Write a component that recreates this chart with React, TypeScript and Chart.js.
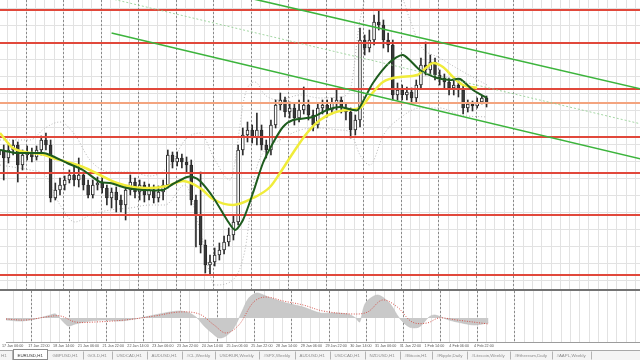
import React, { useEffect, useRef } from "react";
import { Chart, registerables } from "chart.js";

Chart.register(...registerables);

// ---- axis extents (hour index since 17 Jan 06:00, weekends skipped) ----
const X_MIN = 1.6;
const X_MAX = 411.2;
const PRICE_MIN = 1.1241;
const PRICE_MAX = 1.153;
const MACD_MIN = -0.0024;
const MACD_MAX = 0.0027;

// ---- time axis ----
const timeLabels = [
  "17 Jan 06:00", "17 Jan 22:00", "18 Jan 14:00", "21 Jan 06:00", "21 Jan 22:00",
  "22 Jan 14:00", "23 Jan 06:00", "23 Jan 22:00", "24 Jan 14:00", "25 Jan 06:00",
  "25 Jan 22:00", "28 Jan 14:00", "29 Jan 06:00", "29 Jan 22:00", "30 Jan 14:00",
  "31 Jan 06:00", "31 Jan 22:00", "1 Feb 14:00", "4 Feb 06:00", "4 Feb 22:00",
];
const timeLabelHours = [-1, 16, 32, 48, 64, 80, 96, 112, 128, 144, 160, 176, 192, 208, 224, 240, 256, 272, 288, 304];
const dayStartHours = [18, 42, 66, 90, 114, 138, 162, 186, 210, 234, 258, 282, 306, 330];

// ---- EURUSD H1 (3-hour candles) ----
const candleOpen = [
  1.1375, 1.138, 1.1372, 1.138, 1.1385, 1.1365, 1.1375, 1.1378, 1.1373, 1.138,
  1.139, 1.1385, 1.1332, 1.134, 1.1345, 1.135, 1.1355, 1.135, 1.1355, 1.1345,
  1.1335, 1.1345, 1.1347, 1.1342, 1.1332, 1.1338, 1.133, 1.1325, 1.134, 1.1348,
  1.1338, 1.1345, 1.1335, 1.134, 1.1332, 1.1338, 1.1345, 1.1375, 1.1368, 1.1372,
  1.1368, 1.1365, 1.133, 1.1315, 1.1285, 1.1265, 1.1268, 1.1275, 1.128, 1.1288,
  1.1295, 1.1308, 1.138, 1.1395, 1.14, 1.1392, 1.14, 1.1385, 1.138, 1.1405,
  1.1425, 1.143, 1.1418, 1.1422, 1.1412, 1.142, 1.1425, 1.1415, 1.1405, 1.1422,
  1.1425, 1.142, 1.1427, 1.143, 1.1422, 1.1418, 1.14, 1.141, 1.149, 1.1482,
  1.149, 1.1508, 1.1505, 1.149, 1.1485, 1.1435, 1.144, 1.1435, 1.1438, 1.1432,
  1.1445, 1.1465, 1.146, 1.1468, 1.1455, 1.1452, 1.1448, 1.1442, 1.1445, 1.144,
  1.1422, 1.1426, 1.1424, 1.1428, 1.1432,
];
const candleHigh = [
  1.1385, 1.1385, 1.1387, 1.139, 1.1388, 1.138, 1.1384, 1.1382, 1.1384, 1.1394,
  1.1397, 1.139, 1.1347, 1.1352, 1.1354, 1.136, 1.1365, 1.1372, 1.1358, 1.135,
  1.135, 1.1353, 1.1352, 1.1345, 1.1342, 1.1343, 1.1335, 1.1344, 1.1355, 1.1352,
  1.135, 1.1348, 1.1346, 1.1345, 1.1344, 1.135, 1.138, 1.1378, 1.1378, 1.1376,
  1.1373, 1.137, 1.1335, 1.1358, 1.129, 1.1275, 1.1282, 1.1287, 1.1294, 1.1302,
  1.1315, 1.1385, 1.1402, 1.1408, 1.1405, 1.1417, 1.1405, 1.139, 1.141, 1.143,
  1.1437, 1.1433, 1.1428, 1.1426, 1.143, 1.1443, 1.143, 1.142, 1.1426, 1.143,
  1.143, 1.1432, 1.144, 1.1433, 1.1426, 1.1422, 1.1415, 1.1502, 1.1495, 1.15,
  1.1515, 1.152, 1.151, 1.1497, 1.149, 1.1447, 1.1445, 1.1443, 1.1442, 1.145,
  1.1472, 1.1488, 1.1475, 1.1472, 1.146, 1.1456, 1.1452, 1.145, 1.145, 1.1444,
  1.143, 1.1429, 1.1432, 1.1434, 1.1434,
];
const candleLow = [
  1.137, 1.135, 1.1367, 1.1375, 1.1348, 1.136, 1.137, 1.1368, 1.137, 1.1375,
  1.138, 1.1328, 1.133, 1.1335, 1.134, 1.1347, 1.1344, 1.1343, 1.134, 1.1332,
  1.1332, 1.134, 1.1337, 1.1325, 1.1322, 1.1318, 1.1318, 1.131, 1.1335, 1.1332,
  1.133, 1.1328, 1.133, 1.1327, 1.1328, 1.133, 1.1342, 1.1362, 1.1364, 1.1362,
  1.1358, 1.1325, 1.1283, 1.1277, 1.1257, 1.1256, 1.1264, 1.127, 1.1276, 1.1284,
  1.129, 1.1305, 1.1375, 1.1388, 1.1387, 1.1385, 1.138, 1.1372, 1.1375, 1.1402,
  1.142, 1.1413, 1.1412, 1.1405, 1.1408, 1.1416, 1.141, 1.1399, 1.1402, 1.1416,
  1.1413, 1.1416, 1.142, 1.1417, 1.141, 1.1392, 1.1395, 1.1403, 1.1475, 1.1478,
  1.1485, 1.15, 1.1482, 1.1478, 1.143, 1.143, 1.143, 1.143, 1.1426, 1.1428,
  1.1442, 1.1455, 1.1455, 1.145, 1.1445, 1.1442, 1.1435, 1.1435, 1.1433, 1.1416,
  1.1418, 1.1419, 1.1422, 1.1426, 1.1423,
];
const candleClose = [
  1.138, 1.1372, 1.138, 1.1385, 1.1365, 1.1375, 1.1378, 1.1373, 1.138, 1.139,
  1.1385, 1.1332, 1.134, 1.1345, 1.135, 1.1355, 1.135, 1.1355, 1.1345, 1.1335,
  1.1345, 1.1347, 1.1342, 1.1332, 1.1338, 1.133, 1.1325, 1.134, 1.1348, 1.1338,
  1.1345, 1.1335, 1.134, 1.1332, 1.1338, 1.1345, 1.1375, 1.1368, 1.1372, 1.1368,
  1.1365, 1.133, 1.1315, 1.1285, 1.1265, 1.1268, 1.1275, 1.128, 1.1288, 1.1295,
  1.1308, 1.138, 1.1395, 1.14, 1.1392, 1.14, 1.1385, 1.138, 1.1405, 1.1425,
  1.143, 1.1418, 1.1422, 1.1412, 1.142, 1.1425, 1.1415, 1.1405, 1.1422, 1.1425,
  1.142, 1.1427, 1.143, 1.1422, 1.1418, 1.14, 1.141, 1.149, 1.1482, 1.149,
  1.1508, 1.1505, 1.149, 1.1485, 1.1435, 1.144, 1.1435, 1.1438, 1.1432, 1.1445,
  1.1465, 1.146, 1.1468, 1.1455, 1.1452, 1.1448, 1.1442, 1.1445, 1.144, 1.1422,
  1.1426, 1.1424, 1.1428, 1.1432, 1.1426,
];
const HOURS_PER_CANDLE = 3;

// ---- moving averages ----
const maSlowHours = [1.6, 9.9, 17.6, 30.4, 33.6, 44.5, 54.7, 65.6, 76.5, 86.7, 97.6, 108.5, 118.7, 129.6, 137.9, 150.7, 163.5, 174.4, 180.8, 189.1, 198.1, 206.4, 214.7, 223.7, 232.0, 238.4, 246.7, 257.6, 268.5, 274.9, 278.7, 285.1, 291.5, 297.9, 306.9];
const maSlowValues = [1.1397, 1.1382, 1.1378, 1.1375, 1.1373, 1.1368, 1.1363, 1.1355, 1.1347, 1.1343, 1.1342, 1.1344, 1.1349, 1.1342, 1.1331, 1.1325, 1.1332, 1.1343, 1.1357, 1.1377, 1.1397, 1.141, 1.1417, 1.142, 1.1422, 1.1434, 1.1448, 1.1453, 1.1455, 1.1463, 1.1467, 1.1463, 1.1453, 1.1445, 1.1442];
const maFastHours = [1.6, 12.5, 29.1, 33.6, 44.5, 54.7, 65.6, 72.0, 82.9, 93.1, 105.9, 112.3, 121.3, 125.1, 129.6, 137.9, 146.9, 152.0, 157.1, 163.5, 169.9, 176.3, 182.7, 189.1, 201.9, 210.9, 219.2, 227.5, 230.7, 240.3, 251.2, 259.5, 270.4, 281.3, 289.6, 296.0, 304.3, 313.3];
const maFastValues = [1.138, 1.1377, 1.1377, 1.1375, 1.1367, 1.136, 1.1348, 1.1347, 1.1342, 1.134, 1.134, 1.1346, 1.1353, 1.1353, 1.1349, 1.1333, 1.131, 1.13, 1.131, 1.1337, 1.1367, 1.1387, 1.1403, 1.141, 1.1413, 1.142, 1.1423, 1.142, 1.142, 1.1447, 1.1468, 1.1475, 1.146, 1.1452, 1.145, 1.1451, 1.144, 1.1432];

// ---- Bollinger bands ----
const bbUpperHours = [1.6, 20.8, 30.4, 40.0, 49.6, 59.2, 72.0, 84.8, 97.6, 110.4, 120.0, 129.6, 139.2, 148.8, 158.4, 164.8, 171.2, 180.8, 193.6, 206.4, 219.2, 225.6, 232.0, 238.4, 257.6, 264.0, 270.4, 283.2, 296.0, 313.3];
const bbUpperValues = [1.139, 1.139, 1.1402, 1.1408, 1.1395, 1.137, 1.1358, 1.1358, 1.1354, 1.1365, 1.139, 1.1397, 1.137, 1.135, 1.1435, 1.1448, 1.1435, 1.143, 1.1435, 1.1432, 1.1433, 1.144, 1.151, 1.154, 1.1535, 1.151, 1.1485, 1.1472, 1.146, 1.1445];
const bbLowerHours = [1.6, 20.8, 30.4, 40.0, 49.6, 59.2, 72.0, 84.8, 97.6, 107.2, 120.0, 129.6, 139.2, 148.8, 158.4, 164.8, 171.2, 180.8, 193.6, 206.4, 219.2, 225.6, 232.0, 238.4, 247.0, 257.6, 270.4, 283.2, 296.0, 313.3];
const bbLowerValues = [1.1365, 1.136, 1.1355, 1.1325, 1.1308, 1.1315, 1.132, 1.1322, 1.1325, 1.1325, 1.1345, 1.13, 1.1245, 1.1248, 1.128, 1.1355, 1.138, 1.139, 1.14, 1.1402, 1.14, 1.1398, 1.1375, 1.1365, 1.1395, 1.1412, 1.1422, 1.1422, 1.1415, 1.1413];

// ---- horizontal levels & channel ----
const resistanceLevels = [1.152, 1.1487, 1.1441, 1.1393, 1.1357, 1.1315, 1.1255];
const pivotLevel = 1.1427;
const channelUpperHours = [150, 412];
const channelUpperValues = [1.1536, 1.1441];
const channelLowerHours = [73, 412];
const channelLowerValues = [1.1497, 1.1371];
const channelMidHours = [60, 412];
const channelMidValues = [1.1536, 1.1406];

// ---- MACD ----
const macdHours = [1.6, 11.2, 20.8, 30.4, 33.6, 38.7, 41.9, 46.4, 56.0, 65.6, 75.2, 84.8, 94.4, 104.0, 113.6, 120.0, 125.1, 129.6, 134.7, 139.2, 143.7, 148.8, 153.9, 158.4, 163.5, 168.0, 172.5, 182.7, 193.6, 204.5, 212.8, 222.4, 227.5, 230.1, 233.9, 241.6, 249.3, 255.7, 262.1, 268.5, 274.9, 278.7, 287.7, 296.0, 304.3, 313.3];
const macdValues = [-0.0002, -0.0003, -0.0001, 0.0003, 0.0004, -0.0004, -0.0008, -0.0006, -0.0003, -0.0002, -0.0003, -0.0001, 0.0002, 0.0005, 0.0007, 0.0005, 0.0, -0.0008, -0.0015, -0.002, -0.0018, -0.001, 0.0006, 0.002, 0.0025, 0.0023, 0.002, 0.0015, 0.0011, 0.0005, 0.0005, 0.0004, 0.0, -0.0004, 0.0015, 0.0023, 0.0015, 0.0, -0.0009, -0.0009, 0.0001, 0.0003, -0.0002, -0.0005, -0.0007, -0.0005];
const signalHours = [1.6, 14.4, 27.2, 36.8, 46.4, 59.2, 78.4, 97.6, 113.6, 126.4, 136.0, 143.7, 152.0, 161.6, 169.3, 180.8, 193.6, 206.4, 225.6, 235.2, 244.8, 254.4, 264.0, 273.6, 281.3, 292.8, 313.3];
const signalValues = [-0.0001, -0.0002, 0.0001, 0.0002, -0.0004, -0.0004, -0.0002, 0.0002, 0.0006, 0.0004, -0.0007, -0.0015, -0.0007, 0.0016, 0.0021, 0.0017, 0.0013, 0.0007, 0.0004, 0.0006, 0.0018, 0.0011, -0.0004, -0.0005, 0.0, -0.0002, -0.0006];

// ---- terminal tabs ----
const tabNames = [
  "EURUSD,H1", "GBPUSD,H1", "GOLD,H1", "USDCAD,H1", "AUDUSD,H1", "#CL,Weekly",
  "USDRUR,Weekly", "#SPX,Weekly", "AUDUSD,H1", "USDCAD,H1", "NZDUSD,H1",
  "#Bitcoin,H1", "#Ripple,Daily", "#Litecoin,Weekly", "#Ethereum,Daily", "#AAPL,Weekly",
];
const activeTab = "EURUSD,H1";

const FONT = "'Liberation Sans', Arial, sans-serif";

const zip = (xs: number[], ys: number[]) => xs.map((x, i) => ({ x, y: ys[i] }));

function makeGridPlugin(withHorizontal: boolean) {
  return {
    id: "mtGrid",
    beforeDatasetsDraw(chart: any) {
      const { ctx, chartArea: a, scales } = chart;
      const xs = scales.x;
      const ys = scales.y;
      ctx.save();
      ctx.beginPath();
      ctx.rect(a.left, a.top, a.right - a.left, a.bottom - a.top);
      ctx.clip();
      ctx.lineWidth = 1;
      ctx.strokeStyle = "#e2e2e2";
      ctx.beginPath();
      for (let h = 0; h <= X_MAX; h += 6) {
        const px = Math.round(xs.getPixelForValue(h)) + 0.5;
        ctx.moveTo(px, a.top);
        ctx.lineTo(px, a.bottom);
      }
      if (withHorizontal) {
        for (let p = PRICE_MAX - 0.0008; p >= PRICE_MIN; p -= 0.0017) {
          const py = Math.round(ys.getPixelForValue(p)) + 0.5;
          ctx.moveTo(a.left, py);
          ctx.lineTo(a.right, py);
        }
      }
      ctx.stroke();
      ctx.strokeStyle = "#8a8a8a";
      ctx.setLineDash([2, 2]);
      ctx.beginPath();
      for (const h of dayStartHours) {
        const px = Math.round(xs.getPixelForValue(h)) + 0.5;
        ctx.moveTo(px, a.top);
        ctx.lineTo(px, a.bottom);
      }
      ctx.stroke();
      ctx.restore();
    },
  };
}

const tabPlugin = {
  id: "mtTabs",
  afterDraw(chart: any) {
    const ctx = chart.ctx;
    const W = chart.width;
    const H = chart.height;
    const top = H - 10;
    ctx.save();
    ctx.fillStyle = "#f4f4f4";
    ctx.fillRect(0, top, W, 10);
    ctx.strokeStyle = "#a8a8a8";
    ctx.lineWidth = 1;
    ctx.beginPath();
    ctx.moveTo(0, top + 0.5);
    ctx.lineTo(W, top + 0.5);
    ctx.stroke();
    ctx.font = `4.4px ${FONT}`;
    ctx.textBaseline = "middle";
    ctx.fillStyle = "#8c8c8c";
    ctx.fillText("H1", 1, top + 5.5);
    ctx.strokeStyle = "#b4b4b4";
    ctx.beginPath();
    ctx.moveTo(12.5, top + 1);
    ctx.lineTo(12.5, H);
    ctx.stroke();
    let x = 13;
    for (const name of tabNames) {
      const w = Math.round(ctx.measureText(name).width + 9.5);
      if (name === activeTab && x === 13) {
        ctx.fillStyle = "#ffffff";
        ctx.fillRect(x, top, w, 10);
        ctx.strokeStyle = "#8c8c8c";
        ctx.strokeRect(x + 0.5, top - 0.5, w - 1, 10);
        ctx.fillStyle = "#333333";
      } else {
        ctx.fillStyle = "#8c8c8c";
        ctx.strokeStyle = "#b4b4b4";
        ctx.beginPath();
        ctx.moveTo(x + w + 0.5, top + 1.5);
        ctx.lineTo(x + w + 0.5, H - 0.5);
        ctx.stroke();
      }
      ctx.fillText(name, x + 4.5, top + 5.5);
      x += w;
    }
    ctx.restore();
  },
};

export default function App() {
  const mainRef = useRef<HTMLCanvasElement | null>(null);
  const macdRef = useRef<HTMLCanvasElement | null>(null);

  useEffect(() => {
    if (!mainRef.current || !macdRef.current) return;
    const candleHours = candleOpen.map((_, k) => HOURS_PER_CANDLE * k + 1);

    const lineBase = { type: "line" as const, pointRadius: 0, fill: false };
    const levelSets = resistanceLevels.map((p) => ({
      ...lineBase,
      data: [{ x: X_MIN, y: p }, { x: X_MAX, y: p }],
      borderColor: "#e1483b",
      borderWidth: 2,
      order: 5,
    }));

    const main = new Chart(mainRef.current, {
      type: "bar",
      data: {
        datasets: [
          { ...lineBase, data: zip(bbUpperHours, bbUpperValues), borderColor: "#b6b6b6", borderWidth: 1, borderDash: [1, 2], cubicInterpolationMode: "monotone", order: 10 },
          { ...lineBase, data: zip(bbLowerHours, bbLowerValues), borderColor: "#b6b6b6", borderWidth: 1, borderDash: [1, 2], cubicInterpolationMode: "monotone", order: 10 },
          {
            type: "bar",
            data: candleHours.map((x, k) => ({ x, y: [candleLow[k], candleHigh[k]] })),
            backgroundColor: "#2e2e2e",
            barThickness: 1,
            grouped: false,
            order: 9,
          },
          {
            type: "bar",
            data: candleHours.map((x, k) => ({ x, y: [candleOpen[k], candleClose[k]] })),
            backgroundColor: candleHours.map((_, k) => (candleClose[k] >= candleOpen[k] ? "#ffffff" : "#3a3a3a")),
            borderColor: "#2a2a2a",
            borderWidth: 1,
            borderSkipped: false,
            barThickness: 3,
            grouped: false,
            order: 8,
          },
          ...levelSets,
          { ...lineBase, data: [{ x: X_MIN, y: pivotLevel }, { x: X_MAX, y: pivotLevel }], borderColor: "#f3a47f", borderWidth: 2, order: 5 },
          { ...lineBase, data: zip(maSlowHours, maSlowValues), borderColor: "#f0ec3a", borderWidth: 2.5, cubicInterpolationMode: "monotone", order: 4 },
          { ...lineBase, data: zip(maFastHours, maFastValues), borderColor: "#1e5c1e", borderWidth: 2, tension: 0.25, order: 3 },
          { ...lineBase, data: zip(channelMidHours, channelMidValues), borderColor: "rgba(140,205,140,0.8)", borderWidth: 1, borderDash: [2, 2], order: 2 },
          { ...lineBase, data: zip(channelUpperHours, channelUpperValues), borderColor: "#3cb43c", borderWidth: 1.6, order: 2 },
          { ...lineBase, data: zip(channelLowerHours, channelLowerValues), borderColor: "#3cb43c", borderWidth: 1.6, order: 2 },
        ] as any,
      },
      options: {
        animation: false,
        responsive: false,
        events: [],
        layout: { padding: 0 },
        scales: {
          x: { type: "linear", display: false, min: X_MIN, max: X_MAX, bounds: "data", offset: false },
          y: { type: "linear", display: false, min: PRICE_MIN, max: PRICE_MAX, beginAtZero: false },
        },
        plugins: { legend: { display: false }, tooltip: { enabled: false } },
      } as any,
      plugins: [makeGridPlugin(true)],
    });

    const macd = new Chart(macdRef.current, {
      type: "line",
      data: {
        datasets: [
          { data: zip(macdHours, macdValues), borderColor: "#b8b8b8", borderWidth: 0.5, backgroundColor: "#c9c9c9", fill: "origin", pointRadius: 0, tension: 0.3, order: 2 },
          { data: zip(signalHours, signalValues), borderColor: "#d4544c", borderWidth: 1, borderDash: [1, 1.5], pointRadius: 0, tension: 0.35, fill: false, order: 1 },
        ],
      },
      options: {
        animation: false,
        responsive: false,
        events: [],
        layout: { padding: { top: 0, left: 0, right: 0, bottom: 10 } },
        scales: {
          x: {
            type: "linear",
            min: X_MIN,
            max: X_MAX,
            bounds: "data",
            offset: false,
            grid: { display: false, drawTicks: false },
            border: { display: true, color: "#9c9c9c" },
            afterBuildTicks: (axis: any) => {
              axis.ticks = timeLabelHours.map((v) => ({ value: v }));
            },
            afterFit: (axis: any) => {
              axis.height = 8;
            },
            ticks: {
              autoSkip: false,
              maxRotation: 0,
              minRotation: 0,
              align: "start",
              padding: 2,
              color: "#555555",
              font: { size: 3.7, family: FONT },
              callback: (_v: any, i: number) => timeLabels[i],
            },
          },
          y: { type: "linear", display: false, min: MACD_MIN, max: MACD_MAX },
        },
        plugins: { legend: { display: false }, tooltip: { enabled: false } },
      } as any,
      plugins: [makeGridPlugin(false), tabPlugin],
    });

    return () => {
      main.destroy();
      macd.destroy();
    };
  }, []);

  return (
    <div style={{ position: "fixed", left: 0, top: 0, width: 640, height: 360, background: "#ffffff", overflow: "hidden" }}>
      <canvas ref={mainRef} width={640} height={289} style={{ position: "absolute", left: 0, top: 0, width: 640, height: 289 }} />
      <div style={{ position: "absolute", left: 0, top: 289, width: 640, height: 2, background: "#737373" }} />
      <canvas ref={macdRef} width={640} height={69} style={{ position: "absolute", left: 0, top: 291, width: 640, height: 69 }} />
    </div>
  );
}
